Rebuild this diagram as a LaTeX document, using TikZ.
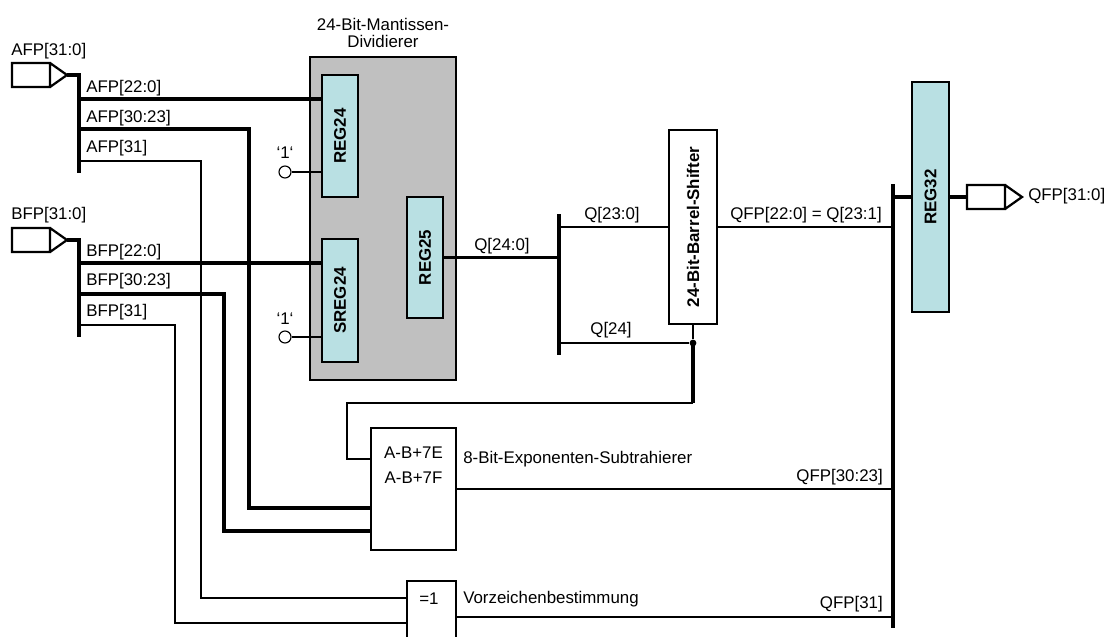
\documentclass[tikz,border=0pt]{standalone}
\usepackage{fontspec}
\setmainfont{Liberation Sans}
\usetikzlibrary{calc}
\definecolor{divgray}{HTML}{C0C0C0}
\definecolor{regfill}{HTML}{B9E0E3}
\newcommand{\lblfont}{\fontsize{12}{12.5}\selectfont}
\tikzset{
  divbox/.style={draw=black,fill=divgray,line width=0.8pt,inner sep=0pt},
  regbox/.style={draw=black,fill=regfill,line width=0.8pt,inner sep=0pt,
                 minimum width=0.9cm,font=\lblfont\bfseries},
  plainbox/.style={draw=black,fill=white,line width=0.8pt,inner sep=0pt},
  onedot/.style={circle,draw=black,fill=white,line width=0.8pt,
                 minimum size=0.3cm,inner sep=0pt},
  joint/.style={circle,fill=black,minimum size=0.17cm,inner sep=0pt},
  lbl/.style={inner sep=0pt,font=\lblfont},
  bus/.style={line width=2.2pt},
  wire/.style={line width=1.7pt},
  thinwire/.style={line width=0.8pt},
  port/.pic={
    \draw[line width=1.6pt] (0,-12) rectangle (38,12) (38,-12) -- (55,0) -- (38,12);
    \coordinate (-in) at (0,0);
    \coordinate (-tip) at (55,0);
  }
}

\begin{document}
\begin{tikzpicture}[x=0.025cm,y=-0.025cm,every node/.style={font=\lblfont}]
    \useasboundingbox (0,0) rectangle (1110,637);

    % inputs
    \pic (afp) at (12,75) {port};
    \pic (bfp) at (12,240) {port};
    \node[lbl,anchor=west] (afplbl) at (11,51) {AFP[31:0]};
    \node[lbl,anchor=west] (bfplbl) at (11,215) {BFP[31:0]};

    \coordinate (abustop) at (79,75);
    \coordinate (abusbot) at (79,173);
    \coordinate (bbustop) at (79,240);
    \coordinate (bbusbot) at (79,337);
    \coordinate (a22) at (79,99);
    \coordinate (a30) at (79,129);
    \coordinate (a31) at (79,161);
    \coordinate (b22) at (79,263);
    \coordinate (b30) at (79,294);
    \coordinate (b31) at (79,325);

    \node[lbl,anchor=west] (a22lbl) at (86,88) {AFP[22:0]};
    \node[lbl,anchor=west] (a30lbl) at (86,118) {AFP[30:23]};
    \node[lbl,anchor=west] (a31lbl) at (86,148) {AFP[31]};
    \node[lbl,anchor=west] (b22lbl) at (86,252) {BFP[22:0]};
    \node[lbl,anchor=west] (b30lbl) at (86,281) {BFP[30:23]};
    \node[lbl,anchor=west] (b31lbl) at (86,312) {BFP[31]};

    % mantissa divider
    \node[divbox,minimum width=3.65cm,minimum height=8.075cm] (div) at (383,218.5) {};
    \node[align=center] (divtitle) at (383,33) {24-Bit-Mantissen-\\Dividierer};
    \node[regbox,minimum height=3.05cm] (reg24) at (340,136) {\rotatebox{90}{REG24}};
    \node[regbox,minimum height=3.075cm] (sreg24) at (340,300.5) {\rotatebox{90}{SREG24}};
    \node[regbox,minimum height=3.025cm] (reg25) at (425,257.5) {\rotatebox{90}{REG25}};
    \node[onedot] (onea) at (285,172) {};
    \node[onedot] (oneb) at (285,337) {};
    \node (onealbl) at (285,153) {‘1‘};
    \node (oneblbl) at (285,319) {‘1‘};

    % barrel shifter and output register
    \node[plainbox,minimum width=1.2cm,minimum height=4.85cm,font=\lblfont\bfseries]
      (barrel) at (693,227) {\rotatebox{90}{24-Bit-Barrel-Shifter}};
    \node[regbox,minimum width=0.925cm,minimum height=5.75cm] (reg32) at (930.5,197) {\rotatebox{90}{REG32}};
    \pic (qfp) at (967,197) {port};
    \node[lbl,anchor=west] (qfplbl) at (1028,196) {QFP[31:0]};

    % exponent and sign
    \node[plainbox,minimum width=2.125cm,minimum height=3.05cm] (sub) at (413.5,489) {};
    \node[align=center] (subtext) at (413.5,465) {A-B+7E\\[5pt]A-B+7F};
    \node[lbl,anchor=west] (sublbl) at (463,459) {8-Bit-Exponenten-Subtrahierer};
    \node[plainbox,minimum width=1.225cm,minimum height=1.725cm] (xor) at (431.5,615.5) {};
    \node (xortext) at (429,599) {=1};
    \node[lbl,anchor=west] (xorlbl) at (463,599) {Vorzeichenbestimmung};

    \coordinate (qtop) at (559,214);
    \coordinate (qbot) at (559,355);
    \coordinate (q24) at (559,343);
    \coordinate (rtop) at (893,184);
    \coordinate (rbot) at (893,628);
    \coordinate (ea) at (249,508);
    \coordinate (eb) at (224,531);
    \coordinate (sa) at (201,598);
    \coordinate (sb) at (175,623);
    \coordinate (fba) at (693,403);
    \coordinate (fbb) at (347,459);
    \coordinate (xo) at (456,617);
    \node[joint] (dot) at (barrel.south |- q24) {};

    \node (q240lbl) at (502,246) {Q[24:0]};
    \node (q230lbl) at (612,215) {Q[23:0]};
    \node (q24lbl) at (611,330) {Q[24]};
    \node (qfp22lbl) at (806,215) {QFP[22:0] = Q[23:1]};
    \node[lbl,anchor=east] (qfp30lbl) at (883,477) {QFP[30:23]};
    \node[lbl,anchor=east] (qfp31lbl) at (883,604) {QFP[31]};

    % wiring
    \draw[bus] (afp-tip) -- (abustop) -- (abusbot);
    \draw[bus] (bfp-tip) -- (bbustop) -- (bbusbot);
    \draw[bus] (a22) -- (reg24.west |- a22);
    \draw[bus] (b22) -- (sreg24.west |- b22);
    \draw[bus] (a30) -| (ea) -- (sub.west |- ea);
    \draw[bus] (b30) -| (eb) -- (sub.west |- eb);
    \draw[thinwire] (a31) -| (sa) -- (xor.west |- sa);
    \draw[thinwire] (b31) -| (sb) -- (xor.west |- sb);
    \draw[thinwire] (onea) -- (reg24.west |- onea);
    \draw[thinwire] (oneb) -- (sreg24.west |- oneb);

    \draw[wire] (reg25.east) -- (reg25.east -| qtop);
    \draw[bus] (qtop) -- (qbot);
    \draw[wire] (barrel.west -| qtop) -- (barrel.west);
    \draw[thinwire] (q24) -- (dot);
    \draw[thinwire] (barrel.south) -- (dot);
    \draw[bus] (dot.center) -- (fba);
    \draw[thinwire] (fba) -| (fbb) -- (sub.west |- fbb);

    \draw[wire] (barrel.east) -- (barrel.east -| rtop);
    \draw[wire] (sub.east) -- (sub.east -| rtop);
    \draw[wire] (xo) -- (xo -| rtop);
    \draw[bus] (rtop) -- (rbot);
    \draw[bus] (reg32.west -| rtop) -- (reg32.west);
    \draw[bus] (reg32.east) -- (qfp-in);
\end{tikzpicture}
\end{document}
